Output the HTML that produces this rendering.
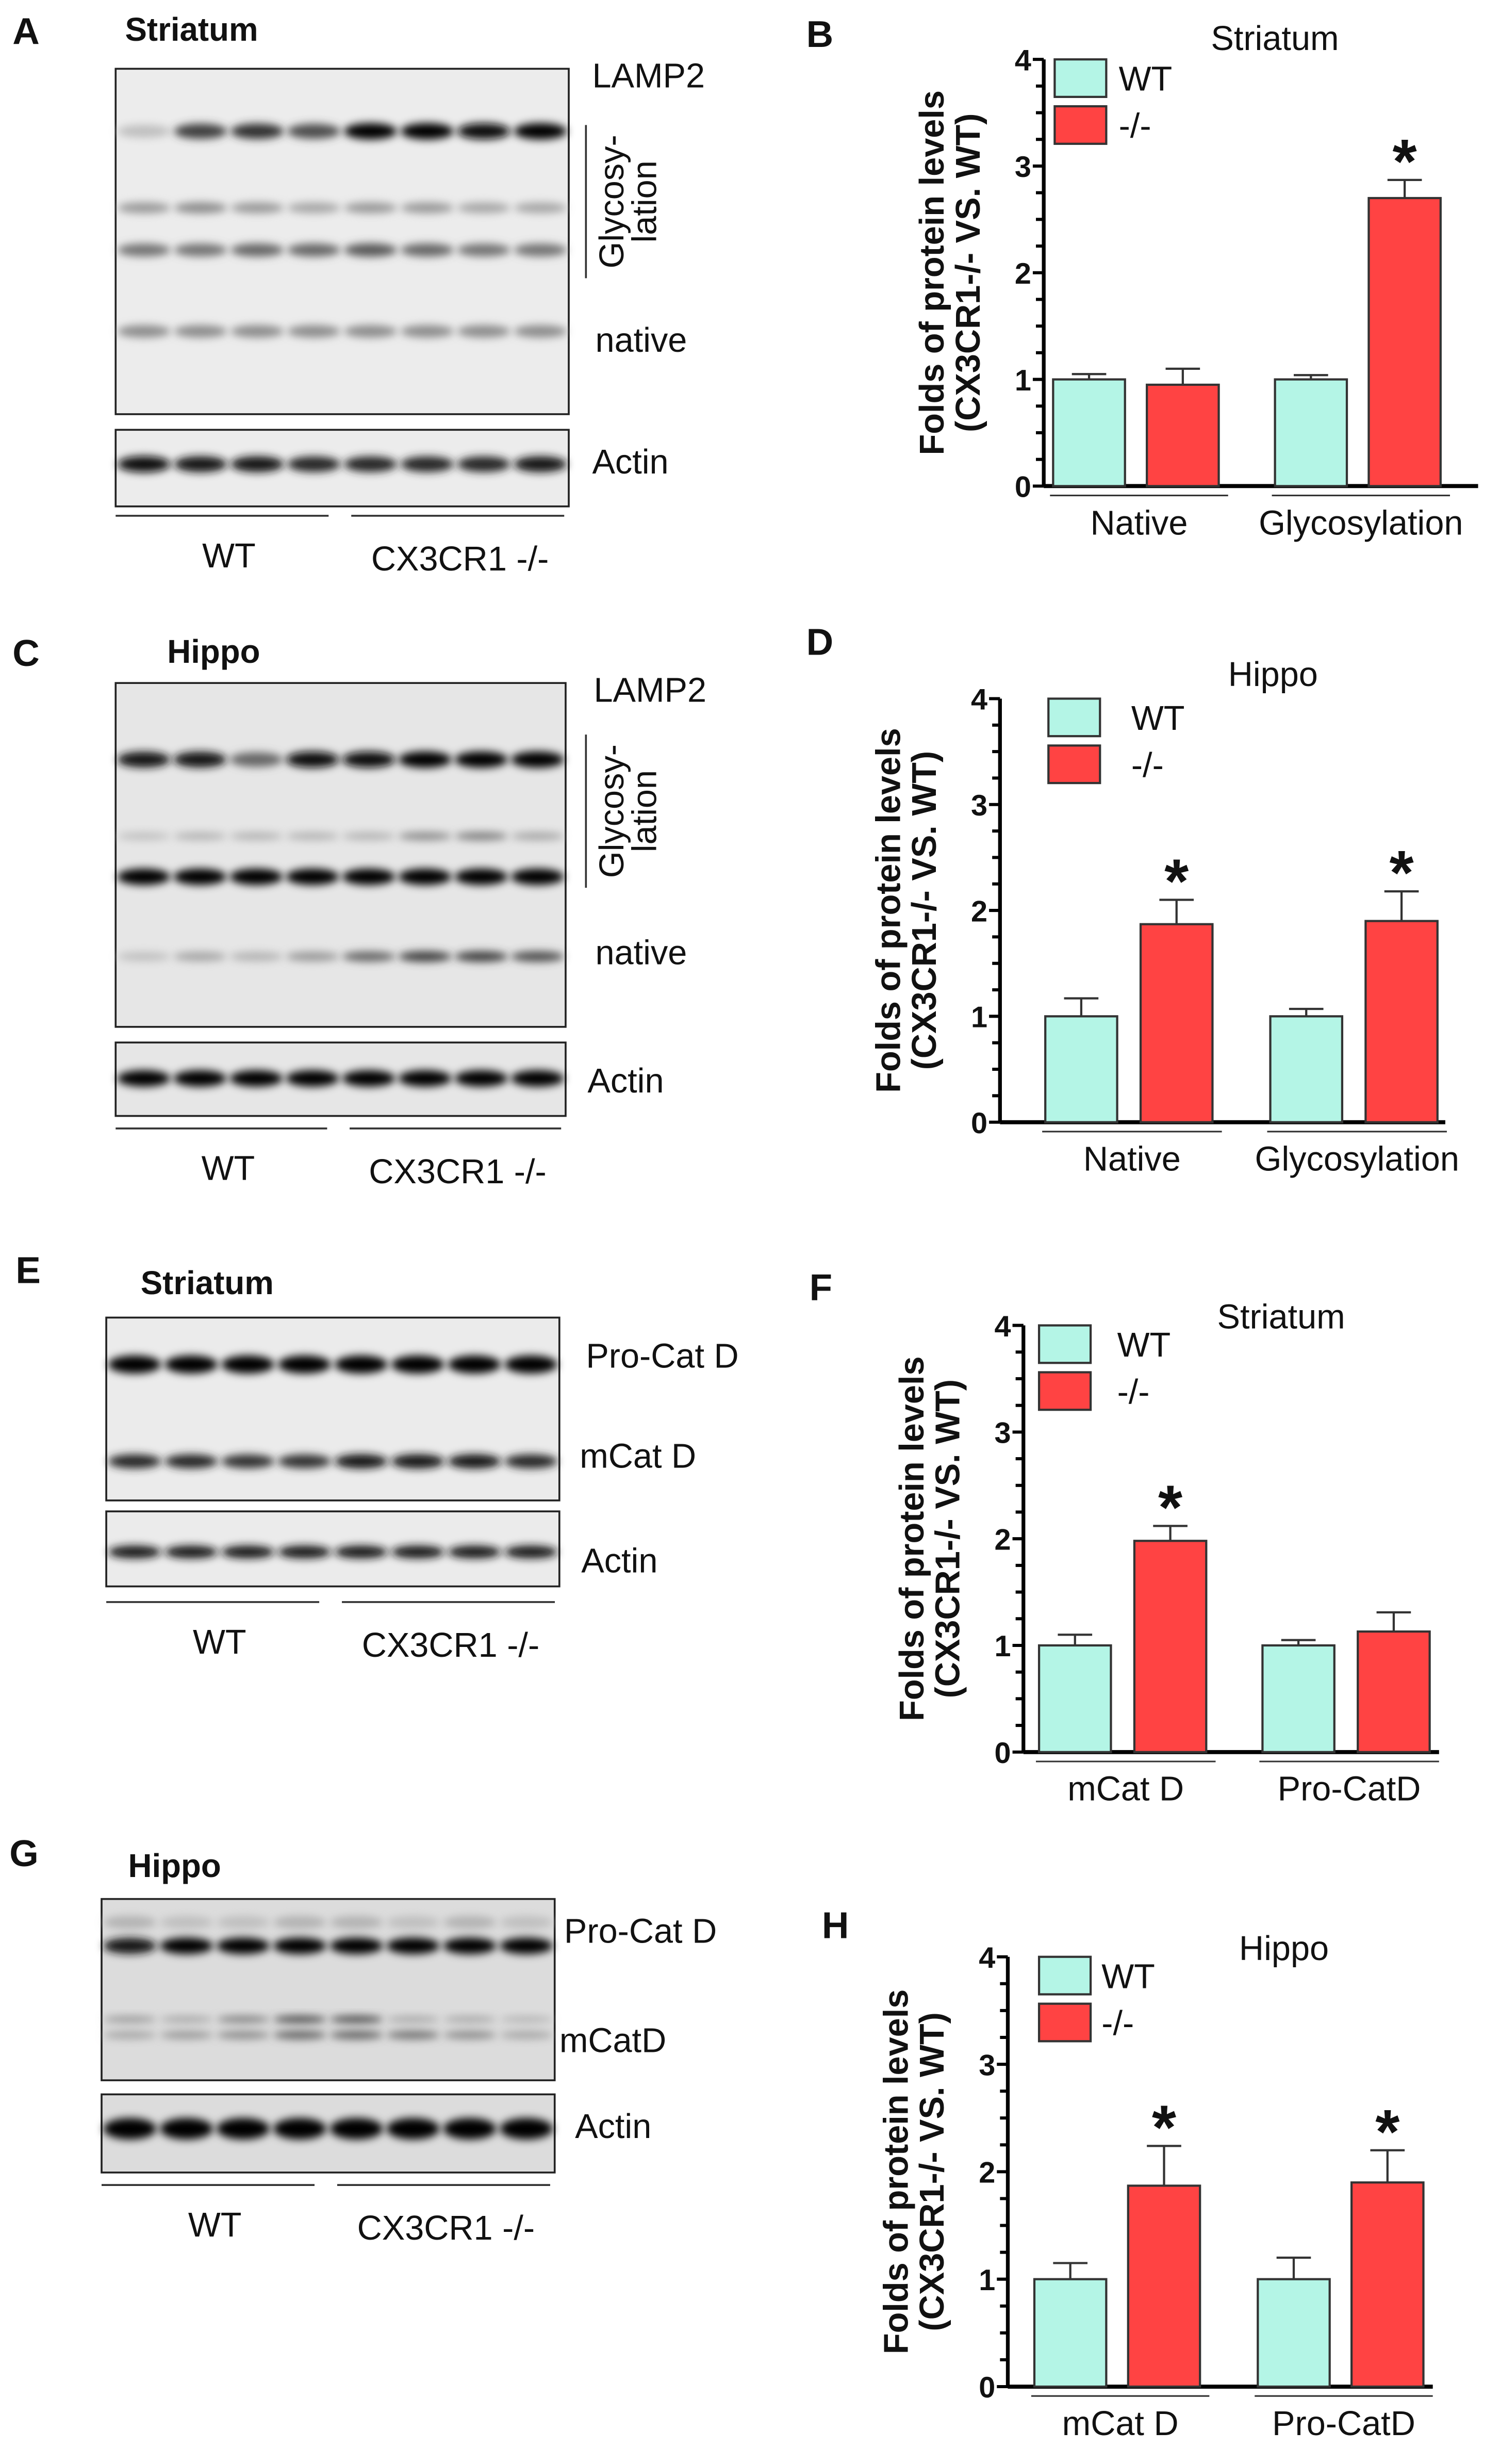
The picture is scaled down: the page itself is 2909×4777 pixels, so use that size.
<!DOCTYPE html>
<html><head><meta charset="utf-8">
<style>
html,body{margin:0;padding:0;background:#fff;}
svg{display:block;font-family:"Liberation Sans",sans-serif;}
</style></head>
<body>
<svg id="fig" xmlns="http://www.w3.org/2000/svg" width="2909" height="4777" viewBox="0 0 960 1576.5">
<defs>
<filter id="blur" x="-50%" y="-100%" width="200%" height="300%"><feGaussianBlur stdDeviation="2.6"/></filter>
</defs>
<rect width="960" height="1576.5" fill="#fff"/>
<g id="blots"></g>
<g id="charts"></g>
</svg>
<script>
// ---------- chart data ----------
const catsB = ["Native", "Glycosylation"];
const wtB = [1.0, 1.0];
const wtErrB = [0.05, 0.04];
const koB = [0.95, 2.7];
const koErrB = [0.15, 0.17];
const sigB = [false, true];

const catsD = ["Native", "Glycosylation"];
const wtD = [1.0, 1.0];
const wtErrD = [0.17, 0.07];
const koD = [1.87, 1.9];
const koErrD = [0.23, 0.28];
const sigD = [true, true];

const catsF = ["mCat D", "Pro-CatD"];
const wtF = [1.0, 1.0];
const wtErrF = [0.1, 0.05];
const koF = [1.98, 1.13];
const koErrF = [0.14, 0.18];
const sigF = [true, false];

const catsH = ["mCat D", "Pro-CatD"];
const wtH = [1.0, 1.0];
const wtErrH = [0.15, 0.2];
const koH = [1.87, 1.9];
const koErrH = [0.37, 0.3];
const sigH = [true, true];

const yTicks = [0, 1, 2, 3, 4];
const legendLabels = ["WT", "-/-"];

const NS = "http://www.w3.org/2000/svg";
function mk(parent, tag, attrs, text) {
  const e = document.createElementNS(NS, tag);
  for (const k in attrs) e.setAttribute(k, attrs[k]);
  if (text !== undefined) e.textContent = text;
  parent.appendChild(e);
  return e;
}
const blots = document.getElementById('blots');
const charts = document.getElementById('charts');

function label(p, x, y, s, size, bold, name, anchor) {
  const t = mk(p, 'text', {x: x, y: y, 'font-size': size, 'font-weight': bold ? 'bold' : 'normal', fill: '#111', 'text-anchor': anchor || 'start'}, s);
  
  
  return t;
}

// ---------- blots ----------
function blot(cfg) {
  const g = mk(blots, 'g', {});
  
  
  label(g, cfg.letterX, cfg.letterY, cfg.letter, 24, true, 'panel-letter-' + cfg.letter.toLowerCase());
  label(g, cfg.titleX, cfg.titleY, cfg.title, 21, true, 'blot-title');
  const mb = mk(g, 'rect', {x: cfg.x, y: cfg.y1, width: cfg.w, height: cfg.h1, fill: cfg.bg, stroke: '#222', 'stroke-width': 1.2});
  
  
  const ab = mk(g, 'rect', {x: cfg.x, y: cfg.y2, width: cfg.w, height: cfg.h2, fill: cfg.bg, stroke: '#222', 'stroke-width': 1.2});
  
  
  const step = cfg.w / 8;
  cfg.bands.forEach(b => {
    for (let i = 0; i < 8; i++) {
      const cx = cfg.x + step * (i + 0.5);
      const d = b.dark[i];
      const col = Math.round(255 * (1 - d));
      const e = mk(g, 'ellipse', {cx: cx, cy: b.y, rx: b.rx || 17, ry: b.ry * (0.75 + 0.3 * d), fill: `rgb(${col},${col},${col})`, filter: 'url(#blur)'});
      
      
    }
  });
  cfg.labels.forEach(l => label(g, l[0], l[1], l[2], 22, false, 'band-label'));
  mk(g, 'line', {x1: cfg.x, x2: cfg.x + cfg.w * 0.47, y1: cfg.ly, y2: cfg.ly, stroke: '#333', 'stroke-width': 1.2});
  mk(g, 'line', {x1: cfg.x + cfg.w * 0.52, x2: cfg.x + cfg.w * 0.99, y1: cfg.ly, y2: cfg.ly, stroke: '#333', 'stroke-width': 1.2});
  label(g, cfg.x + cfg.w * 0.25, cfg.ly + 33, 'WT', 22, false, 'wt-group-label', 'middle');
  label(g, cfg.x + cfg.w * 0.76, cfg.ly + 35, 'CX3CR1 -/-', 22, false, 'ko-group-label', 'middle');
  if (cfg.glyc) {
    mk(g, 'line', {x1: cfg.glyc[0], x2: cfg.glyc[0], y1: cfg.glyc[1], y2: cfg.glyc[2], stroke: '#333', 'stroke-width': 1.2});
    const t = mk(g, 'text', {transform: `translate(${cfg.glyc[0] + 24},${(cfg.glyc[1] + cfg.glyc[2]) / 2}) rotate(-90)`, 'font-size': 22, 'text-anchor': 'middle', fill: '#111'});
    
    
    mk(t, 'tspan', {x: 0, dy: 0}, 'Glycosy-');
    mk(t, 'tspan', {x: 0, dy: 21}, 'lation');
  }
}

blot({name: 'blot-a', letter: 'A', letterX: 8, letterY: 28, title: 'Striatum', titleX: 80, titleY: 26,
  x: 74, y1: 44, w: 290, h1: 221, y2: 275, h2: 49, bg: '#ececec', ly: 330,
  glyc: [375, 80, 178],
  bands: [
    {y: 84, ry: 5, dark: [0.25, 0.75, 0.8, 0.7, 1, 1, 0.95, 1]},
    {y: 133, ry: 4, dark: [0.4, 0.45, 0.4, 0.35, 0.4, 0.4, 0.35, 0.35]},
    {y: 160, ry: 4.5, dark: [0.55, 0.55, 0.6, 0.6, 0.65, 0.6, 0.55, 0.55]},
    {y: 212, ry: 4.5, dark: [0.45, 0.45, 0.45, 0.45, 0.45, 0.45, 0.45, 0.45]},
    {y: 297, ry: 5, dark: [0.95, 0.9, 0.9, 0.85, 0.85, 0.85, 0.85, 0.9]}],
  labels: [[379, 56, 'LAMP2'], [381, 225, 'native'], [379, 303, 'Actin']]});

blot({name: 'blot-c', letter: 'C', letterX: 8, letterY: 426, title: 'Hippo', titleX: 107, titleY: 424,
  x: 74, y1: 437, w: 288, h1: 220, y2: 667, h2: 47, bg: '#e6e6e6', ly: 722,
  glyc: [375, 470, 568],
  bands: [
    {y: 486, ry: 5, dark: [0.9, 0.9, 0.6, 0.95, 0.95, 1, 1, 1]},
    {y: 535, ry: 3, dark: [0.25, 0.3, 0.3, 0.3, 0.3, 0.45, 0.5, 0.35]},
    {y: 561, ry: 5, dark: [1, 1, 1, 1, 1, 1, 1, 1]},
    {y: 612, ry: 3.5, dark: [0.25, 0.35, 0.3, 0.4, 0.6, 0.75, 0.75, 0.7]},
    {y: 690, ry: 5, dark: [1, 1, 1, 1, 1, 1, 1, 1]}],
  labels: [[380, 449, 'LAMP2'], [381, 617, 'native'], [376, 699, 'Actin']]});

blot({name: 'blot-e', letter: 'E', letterX: 10, letterY: 821, title: 'Striatum', titleX: 90, titleY: 828,
  x: 68, y1: 843, w: 290, h1: 117, y2: 967, h2: 48, bg: '#ebebeb', ly: 1025,
  bands: [
    {y: 873, ry: 5.5, dark: [1, 1, 1, 1, 1, 1, 1, 1]},
    {y: 935, ry: 4.5, dark: [0.85, 0.85, 0.8, 0.8, 0.9, 0.9, 0.9, 0.85]},
    {y: 993, ry: 4, dark: [0.9, 0.9, 0.9, 0.9, 0.9, 0.9, 0.9, 0.9]}],
  labels: [[375, 875, 'Pro-Cat D'], [371, 939, 'mCat D'], [372, 1006, 'Actin']]});

blot({name: 'blot-g', letter: 'G', letterX: 6, letterY: 1194, title: 'Hippo', titleX: 82, titleY: 1201,
  x: 65, y1: 1215, w: 290, h1: 116, y2: 1340, h2: 50, bg: '#dcdcdc', ly: 1398,
  bands: [
    {y: 1230, ry: 5, dark: [0.3, 0.25, 0.25, 0.3, 0.3, 0.25, 0.3, 0.25]},
    {y: 1245, ry: 5, dark: [0.9, 1, 1, 1, 1, 1, 1, 1]},
    {y: 1292, ry: 2.5, dark: [0.4, 0.35, 0.5, 0.7, 0.7, 0.35, 0.35, 0.3]},
    {y: 1302, ry: 3, dark: [0.35, 0.4, 0.45, 0.6, 0.6, 0.55, 0.45, 0.35]},
    {y: 1362, ry: 6.5, dark: [1, 1, 1, 1, 1, 1, 1, 1]}],
  labels: [[361, 1243, 'Pro-Cat D'], [358, 1313, 'mCatD'], [368, 1368, 'Actin']]});

// ---------- bar charts ----------
function chart(cfg, cats, wt, wtErr, ko, koErr, sig) {
  const g = mk(charts, 'g', {});
  
  
  const unit = (cfg.zero - cfg.top) / 4;
  const y = v => cfg.zero - v * unit;
  label(g, cfg.letterX, cfg.letterY, cfg.letter, 24, true, 'panel-letter-' + cfg.letter.toLowerCase());
  label(g, cfg.titleX, cfg.titleY, cfg.title, 22, false, 'chart-title');
  const yt = mk(g, 'text', {transform: `translate(${cfg.ax - 52},${(cfg.top + cfg.zero) / 2}) rotate(-90)`, 'font-size': 22, 'font-weight': 'bold', 'text-anchor': 'middle', fill: '#111'});
  
  
  mk(yt, 'tspan', {x: 0, dy: -12}, 'Folds of protein levels');
  mk(yt, 'tspan', {x: 0, dy: 23}, '(CX3CR1-/- VS. WT)');
  const ya = mk(g, 'line', {x1: cfg.ax, x2: cfg.ax, y1: cfg.top, y2: cfg.zero, stroke: '#000', 'stroke-width': 2.4});
  
  
  for (let v = 0; v <= 4.001; v += 0.25) {
    const major = Math.abs(v - Math.round(v)) < 1e-6;
    mk(g, 'line', {x1: cfg.ax - (major ? 7 : 5), x2: cfg.ax, y1: y(v), y2: y(v), stroke: '#000', 'stroke-width': 2});
  }
  yTicks.forEach(t => {
    label(g, cfg.ax - 8, y(t) + 7, String(t), 19, true, 'y-tick-label', 'end');
  });
  const xa = mk(g, 'line', {x1: cfg.ax, x2: cfg.xend, y1: cfg.zero, y2: cfg.zero, stroke: '#000', 'stroke-width': 2.6});
  
  
  const bw = 46;
  cats.forEach((c, i) => {
    const gx = cfg.groups[i];
    [[wt[i], wtErr[i], '#b4f5e6', gx, 'wt'], [ko[i], koErr[i], '#ff4343', gx + cfg.gap, 'ko']].forEach(([v, e, col, x, s]) => {
      const top = y(v + e);
      mk(g, 'line', {x1: x + bw / 2, x2: x + bw / 2, y1: y(v), y2: top, stroke: '#333', 'stroke-width': 1.4});
      mk(g, 'line', {x1: x + bw / 2 - 11, x2: x + bw / 2 + 11, y1: top, y2: top, stroke: '#333', 'stroke-width': 1.4});
      const r = mk(g, 'rect', {x: x, y: y(v), width: bw, height: cfg.zero - y(v), fill: col, stroke: '#333', 'stroke-width': 1.4});
      
      
    });
    if (sig[i]) {
      label(g, gx + cfg.gap + bw / 2, y(ko[i] + koErr[i]) + 2, '*', 40, true, 'significance-star', 'middle');
    }
    mk(g, 'line', {x1: gx - 2, x2: gx + cfg.gap + bw + 6, y1: cfg.zero + 6, y2: cfg.zero + 6, stroke: '#333', 'stroke-width': 1});
    label(g, gx + (cfg.gap + bw) / 2 + 2, cfg.zero + 31, c, 22, false, 'x-category-label', 'middle');
  });
  const colors = ['#b4f5e6', '#ff4343'];
  legendLabels.forEach((l, i) => {
    const ly = cfg.top + i * 30;
    const lr = mk(g, 'rect', {x: cfg.legX, y: ly, width: 33, height: 24, fill: colors[i], stroke: '#333', 'stroke-width': 1.4});
    
    
    label(g, cfg.legTX, ly + 20, l, 22, false, 'legend-entry');
  });
}

chart({name: 'chart-b', letter: 'B', letterX: 516, letterY: 30, title: 'Striatum', titleX: 775, titleY: 32,
  ax: 668, top: 38, zero: 311, xend: 946, groups: [674, 816], gap: 60, legX: 675, legTX: 716}, catsB, wtB, wtErrB, koB, koErrB, sigB);
chart({name: 'chart-d', letter: 'D', letterX: 516, letterY: 419, title: 'Hippo', titleX: 786, titleY: 439,
  ax: 640, top: 447, zero: 718, xend: 925, groups: [669, 813], gap: 61, legX: 671, legTX: 724}, catsD, wtD, wtErrD, koD, koErrD, sigD);
chart({name: 'chart-f', letter: 'F', letterX: 518, letterY: 832, title: 'Striatum', titleX: 779, titleY: 850,
  ax: 655, top: 848, zero: 1121, xend: 921, groups: [665, 808], gap: 61, legX: 665, legTX: 715}, catsF, wtF, wtErrF, koF, koErrF, sigF);
chart({name: 'chart-h', letter: 'H', letterX: 526, letterY: 1240, title: 'Hippo', titleX: 793, titleY: 1254,
  ax: 645, top: 1252, zero: 1527, xend: 917, groups: [662, 805], gap: 60, legX: 665, legTX: 705}, catsH, wtH, wtErrH, koH, koErrH, sigH);
</script>
</body></html>
